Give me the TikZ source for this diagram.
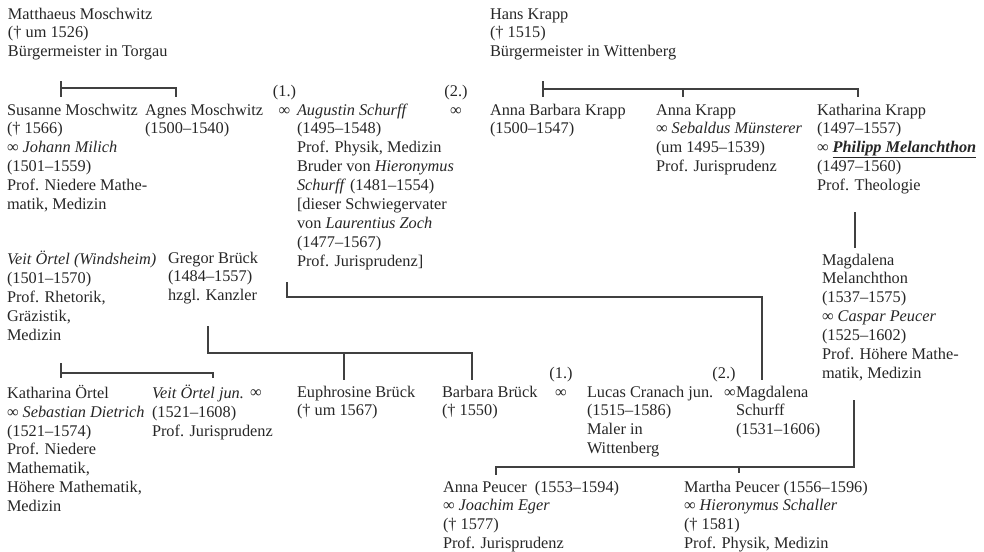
\documentclass[tikz,border=0pt]{standalone}
\usepackage{fontspec}
\setmainfont{Liberation Serif}
\newcommand{\fl}{\rule{0pt}{12pt}}
\begin{document}
\begin{tikzpicture}[x=1pt,y=-1pt,
  every node/.style={inner sep=0pt, outer sep=0pt, align=left,
    font=\fontsize{16.3}{18.9}\selectfont, text=black!85},
  person/.style={anchor=north west, yshift=12pt},
  marr/.style={anchor=base},
  link/.style={draw=black!75, line width=1.3pt}]
\useasboundingbox (0,0) rectangle (984,551);

% ---------- generation 0
\node[person] (matthaeus) at (8,19) {\fl Matthaeus Moschwitz\\(† um 1526)\\Bürgermeister in Torgau};
\node[person] (hans) at (490,19) {\fl Hans Krapp\\(† 1515)\\Bürgermeister in Wittenberg};

% ---------- generation 1
\node[person] (susanne) at (7,115) {\fl Susanne Moschwitz\\(† 1566)\\∞ \textit{Johann Milich}\\(1501–1559)\\Prof. Niedere Mathe-\\matik, Medizin};
\node[person] (agnes) at (145,115) {\fl Agnes Moschwitz\\(1500–1540)};
\node[marr] (m1a) at (284.5,96) {(1.)};
\node[marr] (i1a) at (284.5,115) {∞};
\node[person] (augustin) at (297,115) {\fl\textit{Augustin Schurff}\\(1495–1548)\\Prof. Physik, Medizin\\Bruder von \textit{Hieronymus}\\\textit{Schurff} (1481–1554)\\{[}dieser Schwiegervater\\von \textit{Laurentius Zoch}\\(1477–1567)\\Prof. Jurisprudenz{]}};
\node[marr] (m2a) at (456,96) {(2.)};
\node[marr] (i2a) at (456,115) {∞};
\node[person] (annab) at (490,115) {\fl Anna Barbara Krapp\\(1500–1547)};
\node[person] (annak) at (656,115) {\fl Anna Krapp\\∞ \textit{Sebaldus Münsterer}\\(um 1495–1539)\\Prof. Jurisprudenz};
\node[person] (kathk) at (817,115) {\fl Katharina Krapp\\(1497–1557)\\∞ \underline{\textbf{\textit{Philipp Melanchthon}}}\\(1497–1560)\\Prof. Theologie};

% ---------- generation 2
\node[person] (veit) at (7,263) {\fl\textit{Veit Örtel (Windsheim)}\\(1501–1570)\\Prof. Rhetorik,\\Gräzistik,\\Medizin};
\node[person] (gregor) at (168,263) {\fl Gregor Brück\\(1484–1557)\\hzgl. Kanzler};
\node[person] (magm) at (822,265) {\fl Magdalena\\Melanchthon\\(1537–1575)\\∞ \textit{Caspar Peucer}\\(1525–1602)\\Prof. Höhere Mathe-\\matik, Medizin};

% ---------- generation 3
\node[person] (katho) at (7,397) {\fl Katharina Örtel\\∞ \textit{Sebastian Dietrich}\\(1521–1574)\\Prof. Niedere\\Mathematik,\\Höhere Mathematik,\\Medizin};
\node[person] (veitj) at (152,397) {\fl\textit{Veit Örtel jun.}\\(1521–1608)\\Prof. Jurisprudenz};
\node[person] (iv) at (250,397) {\fl ∞};
\node[person] (euph) at (297,397) {\fl Euphrosine Brück\\(† um 1567)};
\node[person] (barb) at (442,397) {\fl Barbara Brück\\(† 1550)};
\node[marr] (m1b) at (561,378) {(1.)};
\node[marr] (i1b) at (561,397) {∞};
\node[person] (lucas) at (587,397) {\fl Lucas Cranach jun.\\(1515–1586)\\Maler in\\Wittenberg};
\node[marr] (m2b) at (724,378) {(2.)};
\node[person] (i2b) at (724,397) {\fl ∞};
\node[person] (mags) at (736,397) {\fl Magdalena\\Schurff\\(1531–1606)};

% ---------- generation 4
\node[person] (annap) at (443,492) {\fl Anna Peucer\ \ (1553–1594)\\∞ \textit{Joachim Eger}\\(† 1577)\\Prof. Jurisprudenz};
\node[person] (martha) at (684,492) {\fl Martha Peucer (1556–1596)\\∞ \textit{Hieronymus Schaller}\\(† 1581)\\Prof. Physik, Medizin};

% ---------- connector points
\coordinate (mo-top) at (61,81);  \coordinate (mo-j) at (61,88);
\coordinate (mo-l) at (61,97);    \coordinate (mo-r) at (176,97);
\coordinate (kr-top) at (543,81); \coordinate (kr-j) at (543,89);
\coordinate (kr-l) at (543,97);   \coordinate (kr-m) at (683,97);
\coordinate (kr-r) at (858,97);
\coordinate (km-a) at (855,212);  \coordinate (km-b) at (855,248);
\coordinate (sc-a) at (287,282);  \coordinate (sc-c) at (287,297);
\coordinate (sc-b) at (762,380);
\coordinate (gb-a) at (208,326);  \coordinate (gb-j) at (208,353);
\coordinate (gb-m) at (344,380);  \coordinate (gb-r) at (472,380);
\coordinate (oe-top) at (61,363); \coordinate (oe-j) at (61,373);
\coordinate (oe-l) at (61,378);   \coordinate (oe-r) at (213,378);
\coordinate (pe-top) at (854,400);\coordinate (pe-c) at (854,467);
\coordinate (pe-l) at (496,475);  \coordinate (pe-m) at (739,473);

% ---------- connectors
\draw[link] (mo-top) -- (mo-l);
\draw[link] (mo-j) -| (mo-r);
\draw[link] (kr-top) -- (kr-l);
\draw[link] (kr-j) -| (kr-r);
\draw[link] (kr-m |- kr-j) -- (kr-m);
\draw[link] (km-a) -- (km-b);
\draw[link] (sc-a) -- (sc-c) -| (sc-b);
\draw[link] (gb-a) -- (gb-j) -| (gb-r);
\draw[link] (gb-m |- gb-j) -- (gb-m);
\draw[link] (oe-top) -- (oe-l);
\draw[link] (oe-j) -| (oe-r);
\draw[link] (pe-top) -- (pe-c) -| (pe-l);
\draw[link] (pe-m |- pe-c) -- (pe-m);
\end{tikzpicture}
\end{document}
